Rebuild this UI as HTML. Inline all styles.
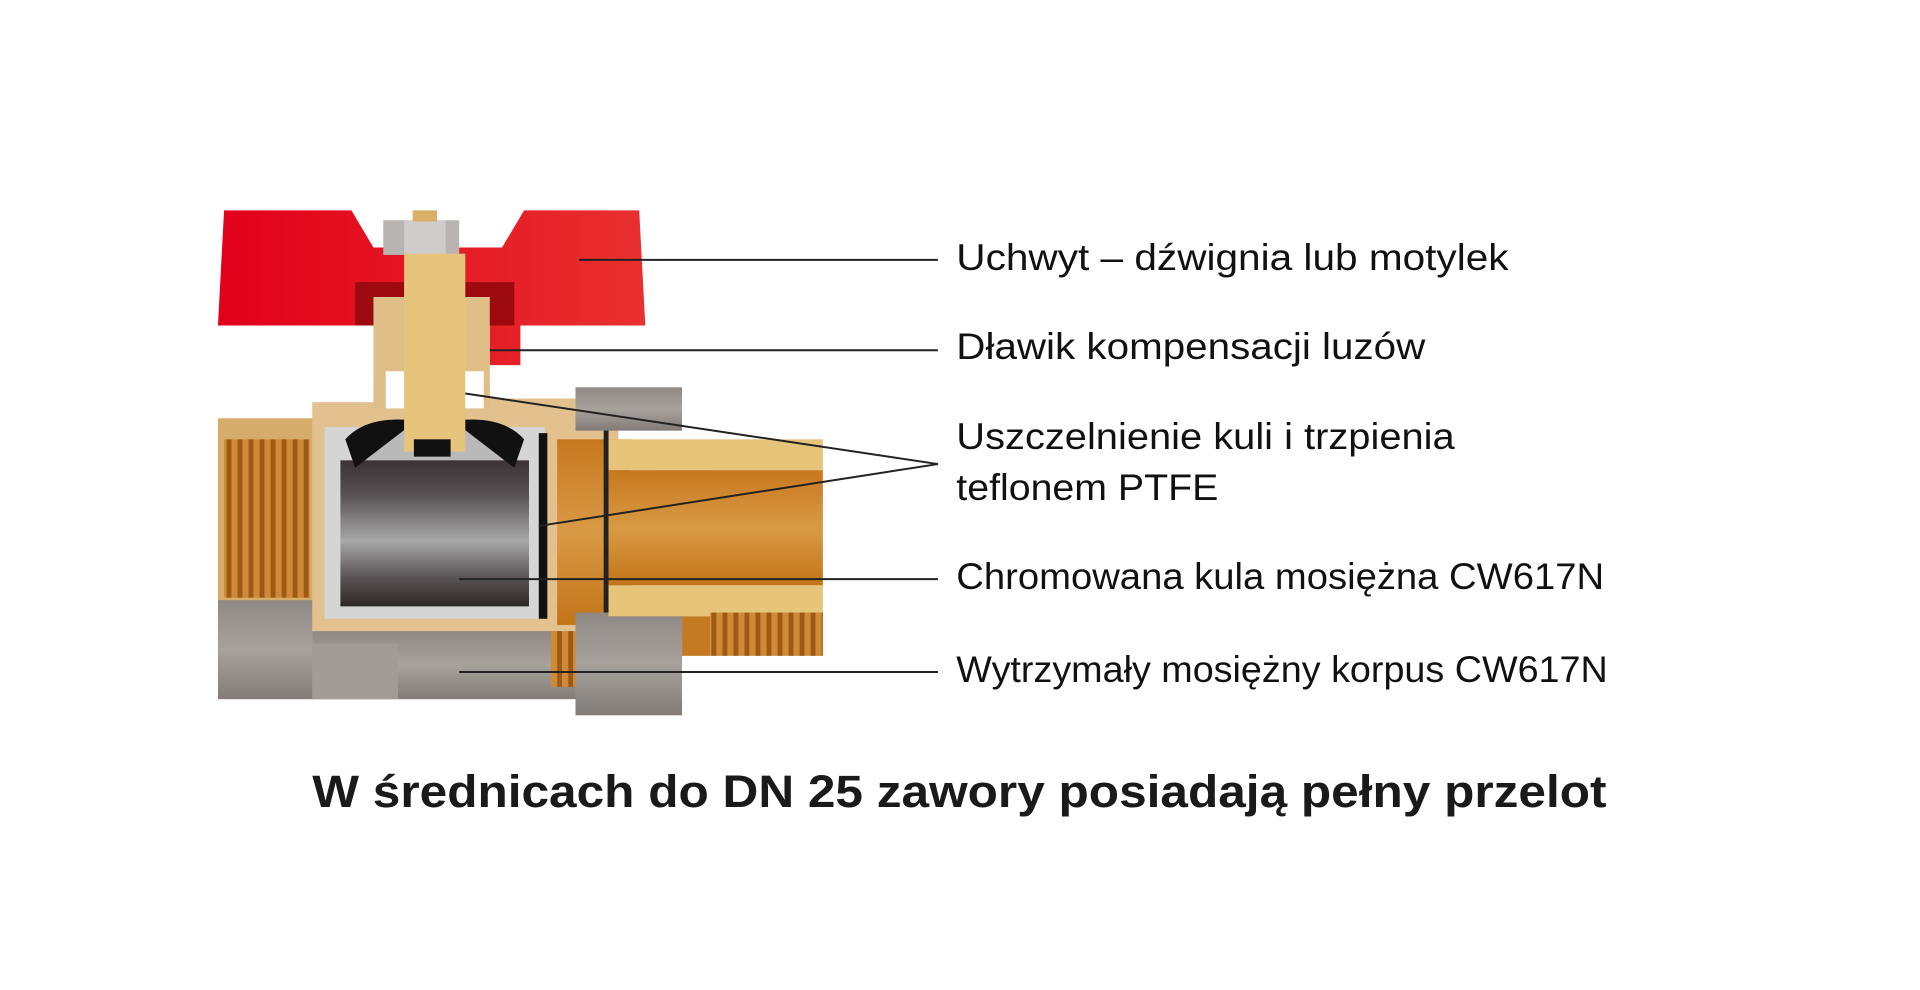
<!DOCTYPE html>
<html><head><meta charset="utf-8"><style>
html,body{margin:0;padding:0;background:#fff;width:1920px;height:990px;overflow:hidden}
svg{display:block}
</style></head><body>
<svg width="1920" height="990" viewBox="0 0 1568 800" preserveAspectRatio="none" xmlns="http://www.w3.org/2000/svg">
<defs>
<linearGradient id="red" x1="0" x2="1"><stop offset="0" stop-color="#e2001a"/><stop offset="1" stop-color="#e8302e"/></linearGradient>
<linearGradient id="ball" x1="0" y1="0" x2="0" y2="1"><stop offset="0" stop-color="#3a3234"/><stop offset="0.25" stop-color="#5a5456"/><stop offset="0.55" stop-color="#a8a8a8"/><stop offset="0.8" stop-color="#5a5456"/><stop offset="1" stop-color="#2e2828"/></linearGradient>
<linearGradient id="orange" x1="0" y1="0" x2="0" y2="1"><stop offset="0" stop-color="#c7781e"/><stop offset="0.5" stop-color="#d99a45"/><stop offset="1" stop-color="#c27418"/></linearGradient>
<linearGradient id="gray" x1="0" y1="0" x2="0" y2="1"><stop offset="0" stop-color="#8f8884"/><stop offset="0.5" stop-color="#a8a29d"/><stop offset="1" stop-color="#827b77"/></linearGradient>
<pattern id="thr" width="9" height="10" patternUnits="userSpaceOnUse"><rect width="9" height="10" fill="#d08a35"/><rect x="5" width="4" height="10" fill="#9c5a16"/></pattern>
</defs>
<polygon points="178,263 183,170 287,170 305,200 410,200 428,170 522,170 527,263 425,263 425,295 400,295 400,263 178,263" fill="url(#red)"/>
<rect x="290" y="228" width="130" height="35" fill="#9c0a10"/>
<rect x="313" y="178" width="62" height="28" fill="#b8b4b2"/>
<rect x="330" y="178" width="34" height="28" fill="#cfcccb"/>
<rect x="337" y="170" width="20" height="9" fill="#d9b066"/>
<rect x="178" y="338" width="80" height="150" fill="#d6ac6a"/>
<rect x="183" y="355" width="70" height="128" fill="url(#thr)"/>
<rect x="178" y="485" width="80" height="80" fill="url(#gray)"/>
<polygon points="255,325 305,325 305,305 400,305 400,322 470,322 470,340 505,340 505,505 470,505 470,520 255,520" fill="#e2c18e"/>
<rect x="305" y="240" width="95" height="90" fill="#e0be88"/>
<rect x="255" y="510" width="215" height="55" fill="url(#gray)"/>
<rect x="255" y="520" width="70" height="45" fill="#a29c98"/>
<rect x="265" y="345" width="180" height="155" fill="#d6d5d5"/>
<path d="M285,380 Q360,300 430,380 Z" fill="#b9b9b9"/>
<rect x="278" y="372" width="154" height="118" fill="url(#ball)"/>
<rect x="440" y="350" width="7" height="150" fill="#111"/>
<path d="M282,355 Q300,335 340,340 L290,378 Z" fill="#111"/>
<path d="M428,355 Q410,335 370,340 L420,378 Z" fill="#111"/>
<rect x="330" y="205" width="50" height="160" fill="#e6c47c"/>
<rect x="338" y="355" width="30" height="14" fill="#111"/>
<rect x="315" y="300" width="15" height="30" fill="#fff"/>
<rect x="380" y="300" width="15" height="30" fill="#fff"/>
<rect x="455" y="355" width="60" height="150" fill="url(#orange)"/>
<rect x="493" y="345" width="4" height="165" fill="#222"/>
<rect x="470" y="313" width="87" height="35" fill="url(#gray)"/>
<rect x="470" y="495" width="87" height="83" fill="url(#gray)"/>
<rect x="450" y="510" width="20" height="45" fill="url(#thr)"/>
<rect x="497" y="355" width="175" height="25" fill="#e6c47a"/>
<polygon points="530,380 585,380 575,395 540,395" fill="#e6c47a"/>
<rect x="497" y="380" width="175" height="93" fill="url(#orange)"/>
<rect x="497" y="473" width="175" height="25" fill="#e6c47a"/>
<rect x="580" y="495" width="92" height="35" fill="url(#thr)"/>
<rect x="557" y="498" width="23" height="32" fill="#c47a22"/>
<g stroke="#222" stroke-width="1.6" fill="none">
<line x1="473" y1="210" x2="766" y2="210"/>
<line x1="400" y1="283" x2="766" y2="283"/>
<line x1="380" y1="318" x2="766" y2="375"/>
<line x1="440" y1="425" x2="766" y2="375"/>
<line x1="375" y1="468" x2="766" y2="468"/>
<line x1="375" y1="543" x2="766" y2="543"/>
</g>
<g font-family="Liberation Sans, sans-serif" font-size="30" fill="#111">
<text x="781" y="218" textLength="451" lengthAdjust="spacingAndGlyphs">Uchwyt – dźwignia lub motylek</text>
<text x="781" y="290" textLength="383" lengthAdjust="spacingAndGlyphs">Dławik kompensacji luzów</text>
<text x="781" y="363" textLength="407" lengthAdjust="spacingAndGlyphs">Uszczelnienie kuli i trzpienia</text>
<text x="781" y="404" textLength="214" lengthAdjust="spacingAndGlyphs">teflonem PTFE</text>
<text x="781" y="476" textLength="529" lengthAdjust="spacingAndGlyphs">Chromowana kula mosiężna CW617N</text>
<text x="781" y="551" textLength="532" lengthAdjust="spacingAndGlyphs">Wytrzymały mosiężny korpus CW617N</text>
</g>
<text x="255" y="652" font-family="Liberation Sans, sans-serif" font-weight="bold" font-size="37" fill="#1a1a1a" textLength="1057" lengthAdjust="spacingAndGlyphs">W średnicach do DN 25 zawory posiadają pełny przelot</text>
</svg>
</body></html>
